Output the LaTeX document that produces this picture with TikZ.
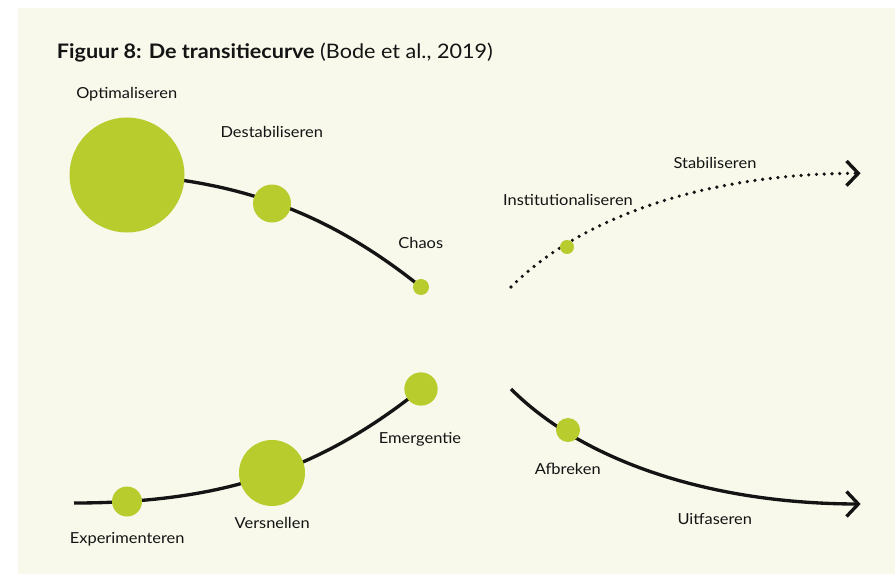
\documentclass[tikz,border=0pt]{standalone}
\usepackage{fontspec}
\setmainfont{Lato}[FakeStretch=1.08]
\definecolor{bg}{RGB}{248,249,235}
\definecolor{lime}{RGB}{184,204,46}
\definecolor{ink}{RGB}{20,20,20}
\begin{document}
\begin{tikzpicture}[x=0.75pt,y=-0.75pt,
  dot/.style={circle,fill=lime,inner sep=0pt,draw=none},
  lbl/.style={anchor=base,font=\fontsize{11.4}{13}\selectfont,text=ink,inner sep=0pt},
  curve/.style={line width=2.5pt,draw=ink},
  dotcurve/.style={line width=2.7pt,draw=ink,line cap=round,dash pattern=on 0pt off 5.8pt},
  chev/.style={line width=2.5pt,draw=ink,line join=miter}]
\useasboundingbox (0,0) rectangle (895,574);
\fill[white] (0,0) rectangle (895,574);
\fill[bg] (18,8) rectangle (895,574);

\node[anchor=base west,inner sep=0pt,font=\fontsize{15}{18}\selectfont,text=ink] (title) at (56.7,58.3)
  {\textbf{Figuur 8: De transitiecurve} (Bode et al., 2019)};

% coordinates
\coordinate (tlstart) at (74,173);
\coordinate (blstart) at (74,503);
\coordinate (trstart) at (511,287);
\coordinate (brstart) at (511,389);
\coordinate (trtip) at (858.3,173.3);
\coordinate (brtip) at (858.3,504);

% curves
\draw[curve] (tlstart) .. controls (224,173) and (321,207) .. (421,287);
\draw[curve] (blstart) .. controls (224,503) and (321,469) .. (421,389);
\draw[dotcurve] (trstart) .. controls (583,215) and (710,173.3) .. (trtip);
\draw[curve] (brstart) .. controls (583,461) and (710,504) .. (brtip);
\draw[chev] (846.5,161) -- (trtip) -- (846.5,185.6);
\draw[chev] (846.5,491.5) -- (brtip) -- (846.5,516.5);

% circles
\node[dot,minimum size=86.25pt] (opt) at (127,175) {};
\node[dot,minimum size=28.5pt] (des) at (272,203.5) {};
\node[dot,minimum size=12pt] (cha) at (421,287) {};
\node[dot,minimum size=22.5pt] (exp) at (127,501.5) {};
\node[dot,minimum size=49.5pt] (ver) at (272,473) {};
\node[dot,minimum size=25pt] (eme) at (421,389) {};
\node[dot,minimum size=10.5pt] (ins) at (567,247) {};
\node[dot,minimum size=18pt] (afb) at (568,430) {};

% labels
\node[lbl] (lopt) at (126.7,99) {Optimaliseren};
\node[lbl] (ldes) at (271.8,137.7) {Destabiliseren};
\node[lbl] (lcha) at (420.8,248.3) {Chaos};
\node[lbl] (lins) at (568,205.7) {Institutionaliseren};
\node[lbl] (lsta) at (715,168.3) {Stabiliseren};
\node[lbl] (lafb) at (567.8,474.3) {Afbreken};
\node[lbl] (luit) at (714.8,524) {Uitfaseren};
\node[lbl] (leme) at (420,443.3) {Emergentie};
\node[lbl] (lver) at (272.2,528.3) {Versnellen};
\node[lbl] (lexp) at (127.2,543.3) {Experimenteren};
\end{tikzpicture}
\end{document}
